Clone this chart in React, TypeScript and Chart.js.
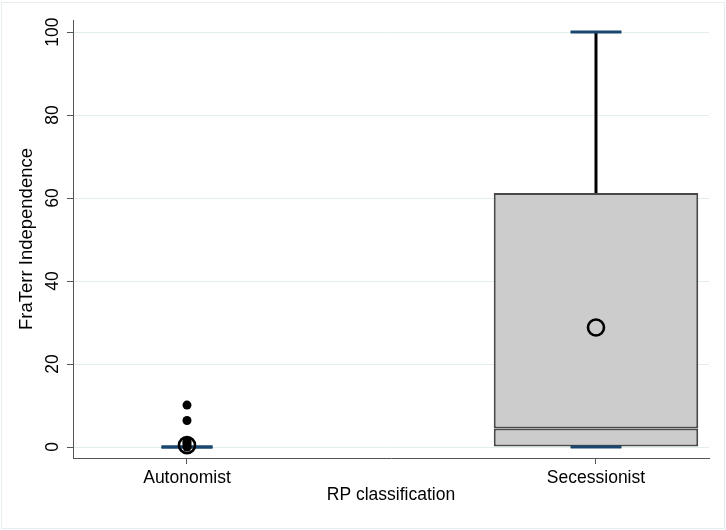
import React, { useEffect, useRef } from "react";
import { Chart, registerables } from "chart.js";

Chart.register(...registerables);

// ---- data ----
const categories = ["Autonomist", "Secessionist"];
const boxLower = [0, 0];
const boxMedian = [0, 4.45];
const boxUpper = [0, 61.2];
const whiskerLow = [0, 0];
const whiskerHigh = [0, 100];
const groupMeans = [0.45, 28.8];
const autonomistOutliers = [10.1, 6.4, 1.4, 0.9, 0.3, 0];
const yTicks = [0, 20, 40, 60, 80, 100];
const yTitle = "FraTerr Independence";
const xTitle = "RP classification";

const FONT = "'Liberation Sans', Arial, Helvetica, sans-serif";
const NAVY = "#1a476f";
const AXIS = "#555555";
const GRID = "#e3ecee";

export default function App() {
  const ref = useRef<HTMLCanvasElement | null>(null);

  useEffect(() => {
    if (!ref.current) return;

    const boxData: any[] = [];
    categories.forEach((_, i) => {
      boxData.push({ x: i + 1, y: [boxLower[i], boxMedian[i]] });
      boxData.push({ x: i + 1, y: [boxMedian[i], boxUpper[i]] });
    });

    const whiskerData: any[] = [];
    categories.forEach((_, i) => {
      whiskerData.push({ x: i + 1, y: boxUpper[i] });
      whiskerData.push({ x: i + 1, y: whiskerHigh[i] });
      whiskerData.push({ x: i + 1, y: null });
      whiskerData.push({ x: i + 1, y: whiskerLow[i] });
      whiskerData.push({ x: i + 1, y: boxLower[i] });
      whiskerData.push({ x: i + 1, y: null });
    });

    const capData: any[] = [];
    categories.forEach((_, i) => {
      capData.push({ x: i + 1, y: whiskerHigh[i] });
      capData.push({ x: i + 1, y: whiskerLow[i] });
    });

    const outlierData = autonomistOutliers.map((v) => ({ x: 1, y: v }));
    const meanData = groupMeans.map((v, i) => ({ x: i + 1, y: v }));

    const chart = new Chart(ref.current, {
      data: {
        datasets: [
          {
            type: "scatter",
            data: meanData,
            pointStyle: "circle",
            pointRadius: 8,
            pointBorderWidth: 2.6,
            pointBorderColor: "#000000",
            pointBackgroundColor: "rgba(0,0,0,0)",
          },
          {
            type: "scatter",
            data: outlierData,
            pointStyle: "circle",
            pointRadius: 4.5,
            pointBorderWidth: 0,
            pointBackgroundColor: "#000000",
          },
          {
            type: "scatter",
            data: capData,
            pointStyle: "line",
            pointRadius: 25.5,
            pointBorderWidth: 3,
            pointBorderColor: NAVY,
          },
          {
            type: "line",
            data: whiskerData,
            borderColor: "#000000",
            borderWidth: 3,
            pointRadius: 0,
            spanGaps: false,
            borderCapStyle: "butt",
          },
          {
            type: "bar",
            data: boxData,
            backgroundColor: "#cccccc",
            borderColor: "#484848",
            borderWidth: 2,
            borderSkipped: false,
            categoryPercentage: 1,
            barPercentage: 0.5,
          },
        ] as any,
      },
      options: {
        animation: false,
        responsive: false,
        events: [],
        layout: { autoPadding: false, padding: { left: 0, top: 20, right: 17, bottom: 0 } },
        plugins: {
          legend: { display: false },
          tooltip: { enabled: false },
        },
        scales: {
          x: {
            type: "linear",
            offset: false,
            min: 0.7213,
            max: 2.2763,
            afterBuildTicks: (scale: any) => {
              scale.ticks = categories.map((_, i) => ({ value: i + 1 }));
            },
            afterFit: (scale: any) => {
              scale.height = 72;
              scale.paddingLeft = 0;
              scale.paddingRight = 0;
            },
            ticks: {
              autoSkip: false,
              maxRotation: 0,
              minRotation: 0,
              padding: 4,
              color: "#000000",
              font: { family: FONT, size: 17.5 },
              callback: (v: any) => categories[Math.round(Number(v)) - 1] ?? "",
            },
            grid: {
              offset: false,
              drawOnChartArea: false,
              drawTicks: true,
              tickLength: 6,
              tickColor: AXIS,
            },
            border: { display: true, color: AXIS, width: 1 },
            title: {
              display: true,
              text: xTitle,
              color: "#000000",
              font: { family: FONT, size: 17.5 },
              padding: { top: 0, bottom: 24 },
            },
          },
          y: {
            type: "linear",
            min: -2.65,
            max: 102.9,
            afterBuildTicks: (scale: any) => {
              scale.ticks = yTicks.map((v) => ({ value: v }));
            },
            afterFit: (scale: any) => {
              scale.width = 73;
              scale.paddingTop = 0;
              scale.paddingBottom = 0;
            },
            ticks: {
              minRotation: 90,
              maxRotation: 90,
              crossAlign: "center",
              padding: -1,
              color: "#000000",
              font: { family: FONT, size: 17.5 },
            },
            grid: {
              color: GRID,
              lineWidth: 1,
              drawTicks: true,
              tickLength: 6,
              tickColor: AXIS,
            },
            border: { display: true, color: AXIS, width: 1 },
            title: {
              display: true,
              text: yTitle,
              color: "#000000",
              font: { family: FONT, size: 18.5 },
              padding: { top: 16, bottom: 0 },
            },
          },
        },
      } as any,
    });

    return () => chart.destroy();
  }, []);

  return (
    <div
      style={{
        position: "fixed",
        left: 0,
        top: 0,
        width: 726,
        height: 530,
        background: "#ffffff",
      }}
    >
      <div
        style={{
          position: "absolute",
          left: 1,
          top: 2,
          width: 722,
          height: 525,
          border: "1px solid #e6eef0",
          pointerEvents: "none",
        }}
      />
      <canvas
        ref={ref}
        width={726}
        height={530}
        style={{ position: "absolute", left: 0, top: 0, width: 726, height: 530 }}
      />
    </div>
  );
}
